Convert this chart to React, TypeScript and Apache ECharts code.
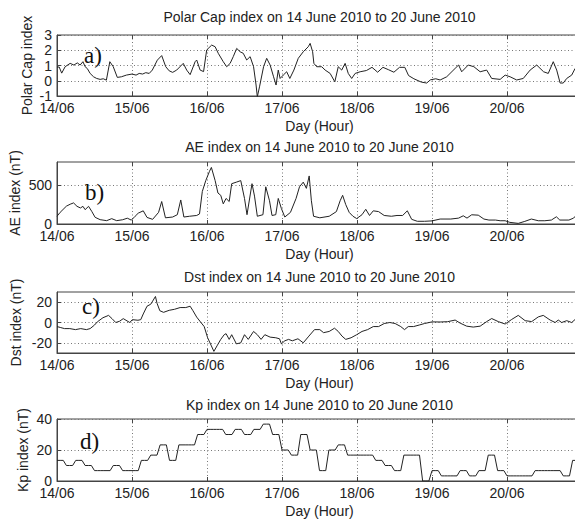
import React, { useEffect, useRef } from "react";
import * as echarts from "echarts";

// Hour 0 = 14 June 2010 00:00 UT; one tick per day.
const dayTicks = ["14/06", "15/06", "16/06", "17/06", "18/06", "19/06", "20/06"];

const panelTitles = [
  "Polar Cap index on 14 June 2010 to 20 June 2010",
  "AE index on 14 June 2010 to 20 June 2010",
  "Dst index on 14 June 2010 to 20 June 2010",
  "Kp index on 14 June 2010 to 20 June 2010",
];
const axisNames = ["Polar Cap index", "AE index (nT)", "Dst index (nT)", "Kp index (nT)"];
const panelLetters = ["a)", "b)", "c)", "d)"];

// [hour, value]
const pcIndex: [number, number][] = [
  [0, 0.9], [0.7, 0.9], [1.5, 0.5], [2.6, 0.92], [4.2, 1.14], [5.4, 1.03], [6.5, 1.17], [7.4, 1.03],
  [8.3, 1.25], [9, 0.92], [9.7, 0.8], [10.6, 0.48], [11.7, 0.26], [12.7, 0.15], [13.8, 0.09], [14.8, 0.13],
  [15.8, 0.04], [16.9, 1.25], [18, 0.92], [19.3, 0.22], [20.6, 0.26], [22.2, 0.37], [24, 0.44], [25.3, 0.37],
  [26.3, 0.48], [27.4, 0.44], [28.4, 0.53], [29.5, 0.48], [30.5, 0.7], [32.1, 1.35], [33.5, 1.65], [34.8, 0.92],
  [35.9, 0.65], [37, 0.55], [38.3, 0.7], [40.4, 1.14], [41.5, 0.7], [42.6, 0.4], [44.2, 1.25], [44.7, 1.36],
  [45.8, 0.7], [46.9, 0.6], [47.9, 2.02], [49.5, 2.34], [50.6, 2.23], [51.6, 1.8], [53.2, 1.25], [54.3, 0.92],
  [55.4, 1.14], [56.4, 1.58], [57.5, 2.12], [58.6, 1.9], [59.6, 1.8], [60.7, 1.36], [61.8, 1.58], [62.9, 0.92],
  [63.7, -0.28], [64.1, -1.05], [64.8, -0.4], [66.1, 0.92], [67.1, 1.47], [68.2, 1.03], [69.3, 0.26], [70.1, -0.28],
  [70.8, 0.7], [71.4, 0.15], [72.4, 0.37], [73.5, 0.59], [74.5, 0.15], [75.8, 0.7], [77.2, 1.47], [78.8, 1.9],
  [80.4, 2.23], [81, 2.45], [81.8, 1.9], [82.2, 1.14], [83.1, 0.92], [84.7, 0.92], [85.8, 0.7], [87.4, 0.48],
  [88.9, -0.07], [90, 0.92], [91.1, 0.7], [92.2, 1.14], [93.2, 0.48], [94.3, 0.15], [95.4, 0.48], [97, 0.59],
  [99, 0.67], [100.8, 0.88], [102.6, 0.56], [104.3, 0.88], [106, 0.73], [107.8, 0.56], [109.6, 0.88], [111.3, 0.88],
  [112.5, 0.34], [114.2, 0.13], [116.6, -0.09], [118.3, -0.15], [119.5, 0.06], [121.2, 0.13], [122.6, 0.05], [124.7, 0.26],
  [127.4, 0.81], [128.5, 1.03], [129.5, 0.59], [131.6, 1.03], [133.4, 0.92], [135.4, 0.59], [137.5, 0.7], [139.1, 0.15],
  [141.8, 0.09], [143.4, 0.37], [145, 0.26], [147.1, 0.05], [149.2, 0.15], [151.4, 0.7], [153.5, 1.03], [155.7, 0.59],
  [157.2, 0.48], [158.8, 1.25], [159.9, 0.7], [161, -0.15], [162, -0.15], [163.1, 0.15], [164.7, 0.37], [165.8, 0.81],
  [167, 0.9],
];

const aeIndex: [number, number][] = [
  [0, 100], [1, 150], [3, 230], [4.2, 255], [5.3, 272], [6.4, 228], [7.5, 207], [8.3, 228], [9, 185], [10.1, 228],
  [11.1, 164], [12.2, 86], [13.8, 56], [15.9, 43], [17.5, 69], [19.1, 43], [21, 55], [22.5, 75], [23.8, 50], [25, 100],
  [26, 140], [27.6, 170], [28.8, 85], [30.6, 60], [32.5, 150], [33.5, 290], [34.7, 80], [37, 90], [38.5, 120], [39.6, 310],
  [40.6, 90], [42.4, 100], [44.7, 110], [45.6, 130], [46.5, 420], [47.6, 560], [48.8, 680], [49.4, 730], [50.6, 560], [51.5, 400],
  [52.4, 370], [53.2, 260], [54.1, 330], [55.1, 290], [55.9, 520], [57.4, 540], [58.8, 560], [60, 330], [60.8, 120], [62.4, 520],
  [63.2, 360], [64.1, 100], [65.9, 120], [66.8, 480], [68, 300], [68.8, 110], [70, 120], [70.8, 330], [71.8, 200], [72.9, 90],
  [74.7, 150], [76.5, 330], [77.6, 480], [78.8, 540], [79.8, 460], [80.7, 620], [81.4, 300], [82.1, 100], [84.1, 80], [87.1, 100],
  [89.4, 160], [90.6, 300], [91.4, 370], [92.4, 250], [93.5, 150], [94.7, 100], [95.9, 70], [97.6, 120], [98.8, 190], [100, 110],
  [101.2, 170], [102.9, 160], [104.7, 110], [107, 100], [108.8, 110], [110.6, 110], [112.1, 170], [113.5, 60], [115.3, 35], [117.6, 35],
  [120, 40], [122.6, 64], [126, 64], [128.5, 76], [130, 106], [131.2, 76], [132.7, 119], [134.8, 114], [136.6, 64], [138.2, 51],
  [140.3, 51], [141.8, 42], [143.4, 42], [144.9, 21], [147.6, 8], [149.7, 34], [151.8, 64], [154, 42], [156.1, 42], [158.2, 51],
  [159.8, 93], [160.9, 51], [163.8, 51], [165.3, 76], [166.5, 127], [168, 140],
];

const dstIndex: [number, number][] = [
  [0, -4], [1.2, -5], [2.4, -6], [4.1, -6], [5.9, -7], [7.6, -6], [9.4, -7], [10.6, -6], [12, -2.5], [12.9, 0.6],
  [14.7, 4.7], [16.5, 7], [17.6, 3.8], [18.8, 0], [20, 1.2], [21.2, 3.8], [22.4, 1.6], [23.3, 0], [24.1, 2.8], [25.9, 2.2],
  [26.8, 2.8], [27.6, 8.4], [28.8, 16], [30, 18], [30.6, 21], [31.5, 25.6], [32, 19], [32.9, 11.6], [34.1, 10], [35.9, 12],
  [37.6, 13], [39.4, 14.7], [41.2, 14.7], [42.6, 16], [43.5, 11.6], [44.7, 5.3], [45.9, 0.6], [47.1, -4], [48.2, -15], [49.4, -23],
  [50.2, -28.4], [51.2, -23], [52.4, -16.6], [53.5, -12], [54.1, -11], [55.1, -16.6], [55.9, -12], [57.4, -21], [58.8, -20], [60, -12],
  [61.2, -16.6], [62.9, -8.8], [64.1, -12], [65.3, -16.6], [66.5, -12], [68.2, -14.4], [70, -15], [71.2, -16], [71.8, -21], [72.9, -18],
  [74.1, -16.6], [75.3, -18], [77.1, -16], [78.8, -20], [80.6, -13.4], [82.4, -7], [84.1, -7], [85.3, -10], [87.1, -8.8], [88.8, -5.6],
  [90, -8.8], [91.2, -13.4], [92.4, -16.6], [94.1, -15], [95.9, -12], [97.6, -8.8], [99.4, -7], [101.2, -4], [102.9, -4], [104.7, -1],
  [106.5, 0], [108.2, -1], [110, -4], [111.2, -7], [112.4, -4], [114.1, -4], [115.9, -2.5], [117.6, -1], [120, 0.6], [122.6, 0.5],
  [125, 0.8], [127.4, 2.4], [129, -0.6], [131.1, -3.6], [133.2, -4.5], [135.4, -3.6], [137.5, 0.9], [139.1, 3.9], [141.2, 0.9], [143.4, -1.5],
  [145.5, 3], [147.6, 7], [149.8, 1.8], [151.9, 0.9], [154, 5.5], [155.6, 7], [157.8, 2.4], [159.4, 0], [160.4, 2.4], [161.5, 0],
  [163.1, 1.8], [164.7, 0], [165.8, 3], [167, 1.5],
];

// Kp (x10), one value per 3-hour interval
const kpBlocks = [
  13.3, 10, 13.3, 10, 6.7, 6.7, 10, 6.7, 6.7, 13.3, 16.7, 23.3, 13.3, 23.3, 23.3, 30,
  33.3, 33.3, 30, 33.3, 30, 33.3, 36.7, 30, 20, 16.7, 30, 20, 6.7, 20, 23.3, 16.7,
  16.7, 16.7, 13.3, 10, 6.7, 16.7, 16.7, 0, 6.7, 3.3, 3.3, 6.7, 3.3, 6.7, 16.7, 6.7,
  3.3, 3.3, 3.3, 6.7, 6.7, 6.7, 3.3, 13.3,
];
// each 3-hour value holds for the three hourly samples it covers
const kpIndex: [number, number][] = kpBlocks.flatMap((v, i) => [0, 1, 2].map((h) => [i * 3 + h, v] as [number, number]));

const yTicks = [[-1, 0, 1, 2, 3], [0, 500], [-20, 0, 20], [0, 20, 40]];
const yRanges = [[-1, 3], [0, 800], [-30, 30], [0, 40]];

const panels = [
  { top: 35, height: 61, nameGap: 23, titleY: 17, letterX: 84, letterY: 55 },
  { top: 162, height: 62, nameGap: 35, titleY: 147, letterX: 85, letterY: 192 },
  { top: 292, height: 61, nameGap: 34, titleY: 277, letterX: 82, letterY: 306 },
  { top: 419, height: 63, nameGap: 27, titleY: 405, letterX: 80, letterY: 441 },
];

const FONT = '"Liberation Sans", Arial, sans-serif';
const SERIF = '"Liberation Serif", "Times New Roman", serif';
const TEXT = "#222";
const AXIS = "#444";
const GRIDLINE = { color: "#777", type: [1, 2.5] as number[], width: 1 };
const CHART_W = 600;
const LEFT = 57;
const RIGHT = 18;

export default function App() {
  const ref = useRef<HTMLDivElement>(null);

  useEffect(() => {
    if (!ref.current) return;
    const chart = echarts.init(ref.current, undefined, { renderer: "svg" });
    const series = [pcIndex, aeIndex, dstIndex, kpIndex];
    const centerX = LEFT + (CHART_W - LEFT - RIGHT) / 2;

    const option: any = {
      animation: false,
      backgroundColor: "#fff",
      grid: panels.map((p) => ({
        left: LEFT,
        right: RIGHT,
        top: p.top,
        height: p.height,
        show: true,
        borderColor: AXIS,
        borderWidth: 1,
        backgroundColor: "#fff",
      })),
      xAxis: [
        ...panels.map((p, i) => ({
          gridIndex: i,
          type: "value",
          min: 0,
          max: 168,
          interval: 24,
          axisLine: { show: true, onZero: false, lineStyle: { color: AXIS } },
          axisTick: { show: true, inside: true, length: 4, lineStyle: { color: AXIS } },
          axisLabel: {
            formatter: (v: number) => dayTicks[Math.round(v / 24)] ?? "",
            color: TEXT,
            fontSize: 14,
            fontFamily: FONT,
            margin: 5,
            showMaxLabel: false,
          },
          splitLine: { show: true, lineStyle: GRIDLINE },
          name: "Day (Hour)",
          nameLocation: "middle",
          nameGap: 23,
          nameMoveOverlap: false,
          nameTextStyle: { color: TEXT, fontSize: 14, fontFamily: FONT },
        })),
        ...panels.map((p, i) => ({
          gridIndex: i,
          type: "value",
          position: "top",
          min: 0,
          max: 168,
          interval: 24,
          axisLine: { show: false, onZero: false },
          axisTick: { show: true, inside: true, length: 4, lineStyle: { color: AXIS } },
          axisLabel: { show: false },
          splitLine: { show: false },
        })),
      ],
      yAxis: panels.map((p, i) => ({
        gridIndex: i,
        type: "value",
        min: yRanges[i][0],
        max: yRanges[i][1],
        axisLine: { show: true, onZero: false, lineStyle: { color: AXIS } },
        axisTick: { show: true, inside: true, length: 4, lineStyle: { color: AXIS }, customValues: yTicks[i] },
        axisLabel: { color: TEXT, fontSize: 14, fontFamily: FONT, margin: 5, customValues: yTicks[i] },
        splitLine: { show: true, lineStyle: GRIDLINE },
        name: axisNames[i],
        nameLocation: "middle",
        nameGap: p.nameGap,
        nameMoveOverlap: false,
        nameTextStyle: { color: TEXT, fontSize: 14, fontFamily: FONT },
      })),
      series: series.map((d, i) => ({
        type: "line",
        xAxisIndex: i,
        yAxisIndex: i,
        data: d,
        showSymbol: false,
        symbol: "none",
        clip: true,
        lineStyle: { color: "#222", width: 1 },
      })),
      graphic: [
        ...panels.map((p, i) => ({
          type: "text",
          x: centerX,
          y: p.titleY,
          style: {
            text: panelTitles[i],
            font: `14px ${FONT}`,
            fill: TEXT,
            align: "center",
            verticalAlign: "middle",
          },
        })),
        ...panels.map((p, i) => ({
          type: "text",
          x: p.letterX,
          y: p.letterY,
          z: 10,
          style: {
            text: panelLetters[i],
            font: `23px ${SERIF}`,
            fill: "#111",
            align: "left",
            verticalAlign: "middle",
          },
        })),
      ],
    };

    chart.setOption(option);
    return () => chart.dispose();
  }, []);

  return (
    <div style={{ position: "fixed", left: 0, top: 0, width: 575, height: 519, overflow: "hidden", background: "#fff" }}>
      <div ref={ref} style={{ width: CHART_W, height: 519 }} />
    </div>
  );
}
